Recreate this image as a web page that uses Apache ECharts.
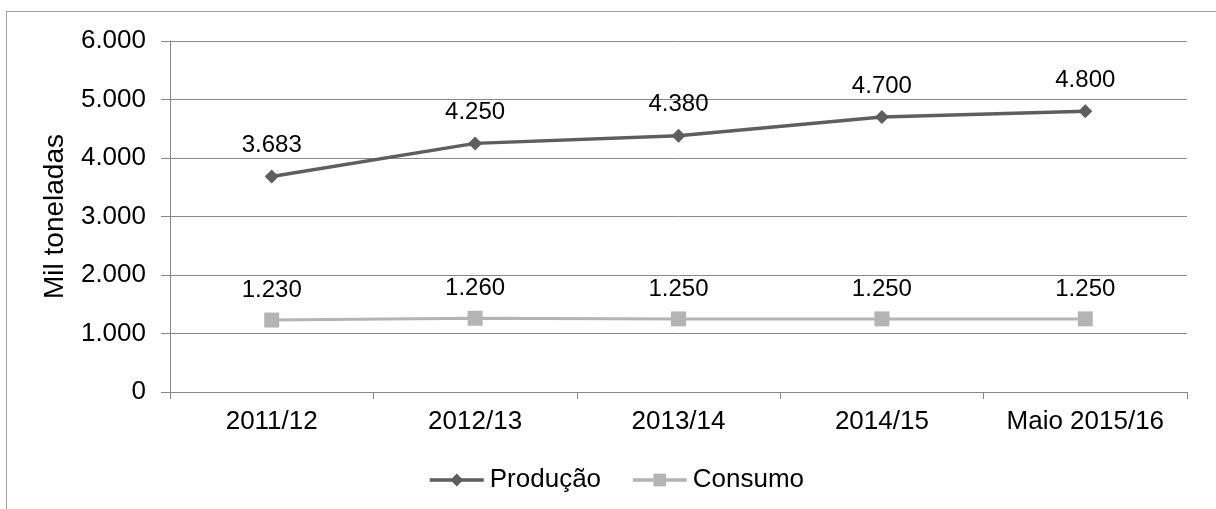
<!DOCTYPE html>
<html>
<head>
<meta charset="utf-8">
<script src="https://cdn.jsdelivr.net/npm/echarts@6/dist/echarts.min.js"></script>
<style>
  html, body { margin: 0; padding: 0; background: #ffffff; }
  #DataChart { width: 1216px; height: 509px; }
  #frame { position: absolute; left: 6px; top: 11px; width: 1300px; height: 600px; border: 1px solid #a0a0a0; pointer-events: none; }
</style>
</head>
<body>
<div id="frame"></div>
<div id="DataChart"></div>
<script>
// dados
var categorias = ['2011/12', '2012/13', '2013/14', '2014/15', 'Maio 2015/16'];
var producao = [3683, 4250, 4380, 4700, 4800];
var consumo = [1230, 1260, 1250, 1250, 1250];

function fmt(v) {
    return String(v).replace(/\B(?=(\d{3})+(?!\d))/g, '.');
}

var myChart = echarts.init(document.getElementById('DataChart'));

var fonte = 'Liberation Sans, Arial, sans-serif';

var option = {
    animation: false,
    textStyle: { fontFamily: fonte },
    grid: { left: 170, right: 29, top: 41, bottom: 117 },
    legend: {
        top: 462,
        left: 423,
        itemWidth: 54,
        itemHeight: 16,
        itemGap: 30,
        lineStyle: { width: 3.5 },
        textStyle: { fontSize: 26, color: '#000000', fontFamily: fonte, padding: [0, 0, 0, 1] },
        data: ['Produção', 'Consumo']
    },
    xAxis: {
        type: 'category',
        data: categorias,
        boundaryGap: true,
        axisLine: { lineStyle: { color: '#888888', width: 1 } },
        axisTick: { show: true, interval: 0, length: 7, lineStyle: { color: '#888888' } },
        axisLabel: { interval: 0, fontSize: 26, color: '#000000', margin: 17 }
    },
    yAxis: {
        type: 'value',
        min: 0,
        max: 6000,
        interval: 1000,
        name: 'Mil toneladas',
        nameLocation: 'middle',
        nameGap: 101,
        nameTextStyle: { fontSize: 28, color: '#000000' },
        axisLine: { show: true, lineStyle: { color: '#888888' } },
        axisTick: { show: true, length: 9, lineStyle: { color: '#888888' } },
        axisLabel: { fontSize: 26, color: '#000000', margin: 24, formatter: fmt },
        splitLine: { lineStyle: { color: '#888888', width: 1 } }
    },
    series: [
        {
            name: 'Produção',
            type: 'line',
            data: producao,
            symbol: 'diamond',
            symbolSize: 14,
            lineStyle: { color: '#5e5e5e', width: 3.5 },
            itemStyle: { color: '#5e5e5e' },
            label: { show: true, position: 'top', distance: 12, fontSize: 24, color: '#000000', formatter: function (p) { return fmt(p.value); } }
        },
        {
            name: 'Consumo',
            type: 'line',
            data: consumo,
            symbol: 'rect',
            symbolSize: 15,
            lineStyle: { color: '#b4b4b4', width: 3 },
            itemStyle: { color: '#b4b4b4' },
            label: { show: true, position: 'top', distance: 10, fontSize: 24, color: '#000000', formatter: function (p) { return fmt(p.value); } }
        }
    ]
};

myChart.setOption(option);
</script>
</body>
</html>
